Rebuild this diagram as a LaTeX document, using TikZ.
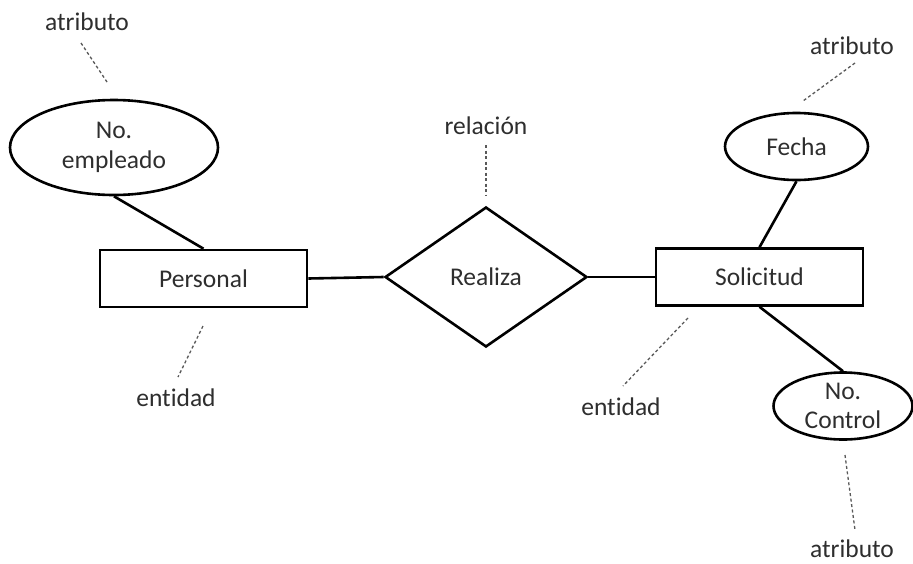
\documentclass[tikz,border=0pt]{standalone}
\usepackage{fontspec}
\setmainfont[Ligatures={NoCommon}]{Carlito}
\usetikzlibrary{shapes.geometric}
\begin{document}
\begin{tikzpicture}[x=1pt,y=-1pt,
  every node/.style={font=\fontsize{25.5}{30}\selectfont, text=black!82},
  entity/.style={draw=black, line width=2.6pt, rectangle, minimum width=207pt, minimum height=57pt, inner sep=0pt},
  attr/.style={draw=black, line width=2.6pt, ellipse, inner sep=0pt, align=center},
  rel/.style={draw=black, line width=2.6pt, diamond, minimum width=202pt, minimum height=140pt, inner sep=0pt},
  link/.style={line width=2.6pt, black},
  note/.style={inner sep=1pt},
  dashln/.style={draw=black!65, line width=1.3pt, dash pattern=on 3pt off 2.5pt}
]
\path[use as bounding box] (0,0) rectangle (913,563);
\fill[white] (0,0) rectangle (913,563);

% main nodes
\node[entity] (personal) at (203.5,278.5) {Personal};
\node[entity] (solicitud) at (759.5,277) {Solicitud};
\node[rel] (realiza) at (486,277) {Realiza};
\node[attr, minimum width=208pt, minimum height=95pt] (empleado) at (114,147.5) {No.\\empleado};
\node[attr, minimum width=143pt, minimum height=67pt] (fecha) at (796.5,146.5) {Fecha};
\node[attr, minimum width=139pt, minimum height=67pt] (control) at (843,406) {No.\\[-1.5pt]Control};

% connectors
\draw[link] (personal.east) -- (realiza.west);
\draw[link] (realiza.east) -- (solicitud.west);
\draw[link] (empleado.south) -- (personal.north);
\draw[link] (fecha.south) -- (solicitud.north);
\draw[link] (solicitud.south) -- (control.north);

% notes
\node[note] (n1) at (87,22) {atributo};
\node[note] (n2) at (486,126) {relación};
\node[note] (n3) at (852,46) {atributo};
\node[note] (n4) at (176,398) {entidad};
\node[note] (n5) at (621,407) {entidad};
\node[note] (n6) at (852,549) {atributo};

\coordinate (a1) at (81,43);  \coordinate (b1) at (107,82);
\coordinate (a2) at (486,145); \coordinate (b2) at (486,196);
\coordinate (a3) at (855,63); \coordinate (b3) at (803,101);
\coordinate (a4) at (203,326); \coordinate (b4) at (178,377);
\coordinate (a5) at (688,318); \coordinate (b5) at (623,386);
\coordinate (a6) at (845,455); \coordinate (b6) at (855,530);

\draw[dashln] (a1) -- (b1);
\draw[dashln] (a2) -- (b2);
\draw[dashln] (a3) -- (b3);
\draw[dashln] (a4) -- (b4);
\draw[dashln] (a5) -- (b5);
\draw[dashln] (a6) -- (b6);
\end{tikzpicture}
\end{document}
